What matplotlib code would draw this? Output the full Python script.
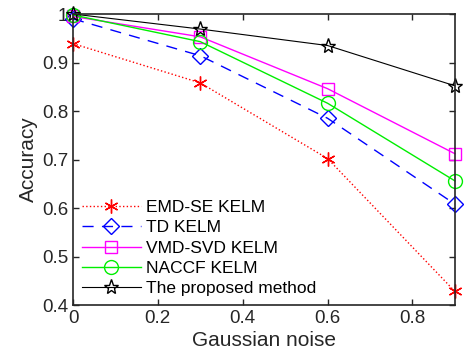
import matplotlib.pyplot as plt
from matplotlib.ticker import FuncFormatter

plt.rcParams['font.family'] = ['Liberation Sans', 'DejaVu Sans']

noise = [0, 0.3, 0.6, 0.9]
emd_se = [0.939, 0.858, 0.702, 0.428]
td = [0.990, 0.914, 0.785, 0.608]
vmd_svd = [0.995, 0.953, 0.846, 0.712]
naccf = [0.998, 0.943, 0.816, 0.656]
proposed = [1.0, 0.969, 0.935, 0.852]

fig = plt.figure(figsize=(4.68, 3.64), dpi=100)
ax = fig.add_axes([0.156, 0.162, 0.816, 0.7995])

ax.plot(noise, emd_se, ':', color='red', marker=(6, 2, 0), ms=10, mew=1.0, lw=1,
        clip_on=False, label='EMD-SE KELM')
ax.plot(noise, td, '--', color='blue', marker='D', ms=8, mfc='none', lw=1, dashes=(8, 6),
        clip_on=False, label='TD KELM')
ax.plot(noise, vmd_svd, '-', color='magenta', marker='s', ms=8, mfc='none', lw=1,
        clip_on=False, label='VMD-SVD KELM')
ax.plot(noise, naccf, '-', color='#00ee00', marker='o', ms=10, mfc='none', lw=1,
        clip_on=False, label='NACCF KELM')
ax.plot(noise, proposed, '-', color='black', marker='*', ms=11, mfc='none', lw=0.8,
        clip_on=False, label='The proposed method')

ax.set_xlim(0, 0.9)
ax.set_ylim(0.4, 1.0)
ax.set_xticks([0, 0.2, 0.4, 0.6, 0.8])
ax.set_yticks([0.4, 0.5, 0.6, 0.7, 0.8, 0.9, 1.0])
fmt = FuncFormatter(lambda v, p: f'{v:g}')
ax.xaxis.set_major_formatter(fmt)
ax.yaxis.set_major_formatter(fmt)
ax.tick_params(direction='in', top=True, right=True, labelsize=13.5, length=4, width=1, colors='#262626')
for s in ax.spines.values():
    s.set_linewidth(1.2)
    s.set_color('#262626')

ax.set_xlabel('Gaussian noise', fontsize=15, color='#262626', labelpad=3)
ax.set_ylabel('Accuracy', fontsize=15, color='#262626', labelpad=3)

ax.legend(loc='lower left', frameon=False, fontsize=12.5, handlelength=3.4,
          borderaxespad=0.1, labelspacing=0.3, handletextpad=0.3)

fig.savefig('out.png', dpi=100)
